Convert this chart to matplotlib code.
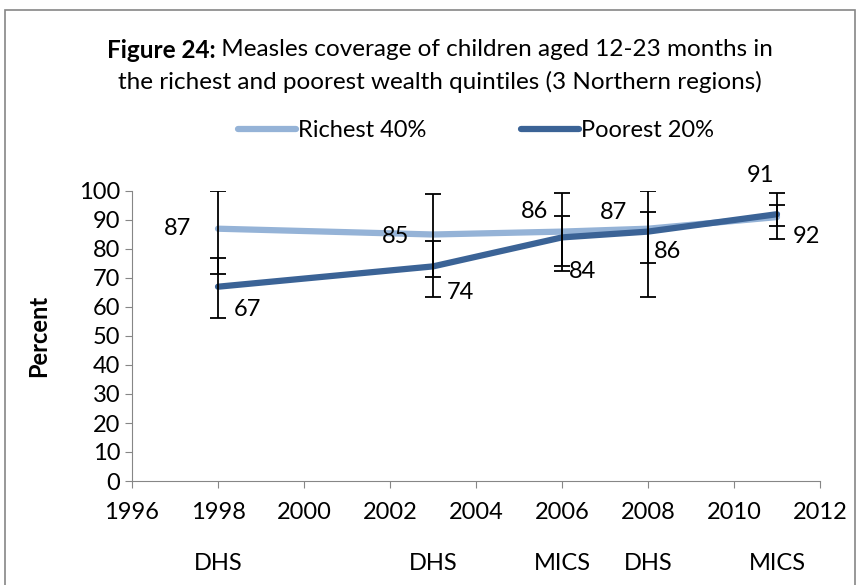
import matplotlib.pyplot as plt
from matplotlib.patches import Rectangle

# Data
years = [1998, 2003, 2006, 2008, 2011]
surveys = ["DHS", "DHS", "MICS", "DHS", "MICS"]
richest = [87, 85, 86, 87, 91]
poorest = [67, 74, 84, 86, 92]
richest_lo = [71.3, 70.2, 72.5, 63.6, 83.3]
richest_hi = [100, 99, 99.2, 100, 99.2]
poorest_lo = [56.1, 63.4, 74.1, 75.1, 87.9]
poorest_hi = [76.8, 82.8, 91.5, 92.6, 95.2]

plt.rcParams['font.family'] = ['Lato', 'DejaVu Sans']

fig = plt.figure(figsize=(8.59, 5.85), dpi=100)
ax = fig.add_axes([132/859, 1-481/585, (820-132)/859, (481-191)/585])

c_rich = "#95B3D7"
c_poor = "#3B6396"

ax.plot(years, richest, color=c_rich, lw=4.5, label="Richest 40%", solid_capstyle='round', zorder=2)
ax.plot(years, poorest, color=c_poor, lw=4.5, label="Poorest 20%", solid_capstyle='round', zorder=3)

ax.errorbar(years, richest,
            yerr=[[r - l for r, l in zip(richest, richest_lo)], [h - r for r, h in zip(richest, richest_hi)]],
            fmt='none', ecolor='black', elinewidth=1.3, capsize=6, capthick=1.3, zorder=4)
ax.errorbar(years, poorest,
            yerr=[[p - l for p, l in zip(poorest, poorest_lo)], [h - p for p, h in zip(poorest, poorest_hi)]],
            fmt='none', ecolor='black', elinewidth=1.3, capsize=6, capthick=1.3, zorder=4)

fs = 17
# data labels (offsets in points)
rich_off = [(-29.5, 0), (-27, -1.5), (-19.5, 14.5), (-25, 11.5), (-12, 30)]
poor_off = [(21, -16.5), (19.5, -18.5), (15, -24.5), (14, -14.5), (21, -16)]
for x, y, (dx, dy) in zip(years, richest, rich_off):
    ax.annotate(str(y), (x, y), xytext=(dx, dy), textcoords='offset points',
                ha='center', va='center', fontsize=fs, annotation_clip=False)
for x, y, (dx, dy) in zip(years, poorest, poor_off):
    ax.annotate(str(y), (x, y), xytext=(dx, dy), textcoords='offset points',
                ha='center', va='center', fontsize=fs, annotation_clip=False)

for x, s in zip(years, surveys):
    ax.text(x, -28.5, s, ha='center', va='center', fontsize=fs)

ax.set_xlim(1996, 2012)
ax.set_ylim(0, 100)
ax.set_xticks(range(1996, 2013, 2))
ax.set_yticks(range(0, 101, 10))
ax.tick_params(axis='both', labelsize=fs, direction='out', length=5, color='#868686')
ax.tick_params(axis='x', pad=10)
for s in ['top', 'right']:
    ax.spines[s].set_visible(False)
for s in ['left', 'bottom']:
    ax.spines[s].set_color('#868686')
ax.set_ylabel("Percent", fontsize=fs, fontweight='bold', labelpad=21)

ax.legend(loc='center', bbox_to_anchor=(0.5, 1 + (191-131)/290), ncol=2, frameon=False,
          fontsize=fs, handlelength=2.45, columnspacing=4.0, handletextpad=0.1)

# title: bold prefix + regular text
tfs = 17.5
r = fig.canvas.get_renderer()
t1 = fig.text(0, 1-50/585, "Figure 24:", fontweight='bold', fontsize=tfs, va='center')
t2 = fig.text(0, 1-50/585, " Measles coverage of children aged 12-23 months in", fontsize=tfs, va='center')
w1 = t1.get_window_extent(r).width
w2 = t2.get_window_extent(r).width
x0 = 440 - (w1 + w2) / 2
t1.set_x(x0/859)
t2.set_x((x0 + w1)/859)
fig.text(440/859, 1-82/585, "the richest and poorest wealth quintiles (3 Northern regions)",
         ha='center', va='center', fontsize=tfs)

fig.patches.append(Rectangle((5/859, -0.05), 0.99, 1-10/585+0.05, transform=fig.transFigure,
                             fill=False, edgecolor='#868686', lw=1.2))

fig.savefig("out.png", dpi=100)
